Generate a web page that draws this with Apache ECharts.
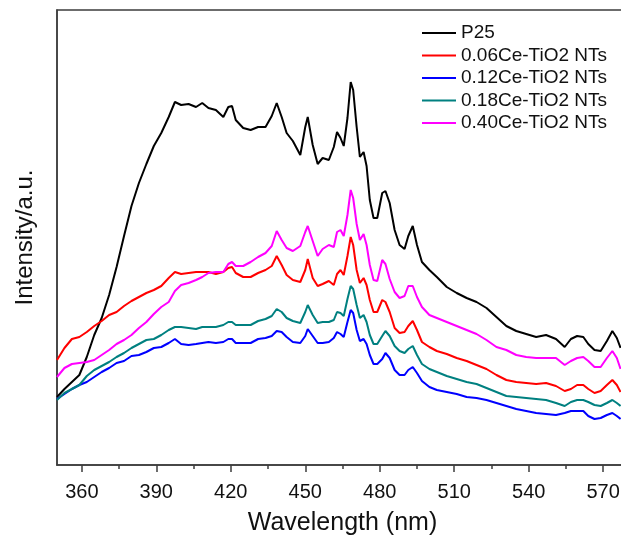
<!DOCTYPE html>
<html>
<head>
<meta charset="utf-8">
<title>PL spectra</title>
<script src="https://cdn.jsdelivr.net/npm/echarts@6.0.0/dist/echarts.min.js"></script>
<style>
    html, body {margin: 0; padding: 0; background: #fff;}
    #chart {width: 621px; height: 536px;}
</style>
</head>
<body>
<div id="chart"></div>
<script>
// wavelength (nm), shared by all curves
var wavelength = [350, 353, 356, 359, 362, 365, 368, 371, 374, 377,
    380, 383, 386, 389, 392, 395, 397.5, 400, 403, 406,
    408.5, 411, 414, 417, 419, 420.5, 422, 425, 428, 431,
    434, 436.5, 438.5, 440.5, 442.5, 445, 448, 450, 451, 453,
    455, 457, 459.5, 461.5, 462.8, 464.2, 465.5, 467, 468.3, 469.3,
    470.7, 472, 473.5, 474.7, 476, 477.5, 479, 481, 482.3, 484,
    486, 488, 490, 491.5, 493.3, 495, 497, 500, 503, 507,
    511, 515, 519, 523, 527, 531, 535, 539, 543, 547,
    551, 554.5, 557, 559.5, 562, 564, 566.5, 569, 571.5, 573.7,
    575.5, 577];

// intensity (a.u.)
var p25 = [68, 76, 83, 90, 108, 130, 147, 170, 198, 229,
    259, 282, 301, 319, 332, 348, 363, 360, 361, 358,
    362, 357, 355, 348, 358, 359, 345, 337, 335, 338,
    338, 349, 362, 348, 332, 324, 310, 338, 348, 320,
    301, 307, 305, 318, 333, 327, 319, 347, 383, 375,
    338, 308, 313, 299, 265, 247, 247, 272, 274, 262,
    235, 220, 216, 229, 239, 220, 203, 195, 188, 178,
    172, 167, 163, 157, 148, 139, 134, 131, 128, 130,
    126, 118, 126, 129, 128, 121, 115, 114, 124, 134,
    127, 117];

var ce006 = [105, 117, 126, 128, 133, 139, 144, 150, 153, 159,
    164, 168, 172, 175, 179, 187, 193, 191, 192, 193,
    193, 193, 191, 193, 197, 198, 192, 188, 188, 192,
    195, 199, 209, 200, 190, 185, 183, 195, 206, 187,
    179, 181, 184, 180, 191, 195, 190, 209, 228, 220,
    195, 182, 187, 180, 165, 153, 153, 165, 163, 153,
    137, 132, 133, 139, 144, 135, 123, 118, 114, 111,
    107, 104, 100, 96, 90, 85, 83, 82, 81, 82,
    79, 74, 76, 80, 80, 76, 72, 74, 80, 85,
    80, 73];

var ce012 = [66, 71, 76, 80, 83, 88, 93, 97, 102, 104,
    109, 110, 113, 117, 118, 122, 126, 121, 120, 121,
    122, 123, 122, 123, 126, 126, 122, 122, 122, 126,
    127, 129, 134, 133, 128, 123, 122, 129, 136, 129,
    122, 122, 123, 127, 133, 131, 128, 143, 155, 152,
    135, 124, 126, 121, 110, 101, 101, 106, 112, 107,
    95, 90, 90, 95, 98, 92, 84, 78, 75, 73,
    71, 68, 67, 65, 62, 59, 56, 54, 52, 51,
    50, 52, 54, 54, 54, 49, 46, 47, 50, 52,
    49, 46];

var ce018 = [65, 72, 76, 80, 89, 95, 99, 103, 108, 112,
    117, 121, 125, 126, 130, 135, 138, 138, 137, 136,
    138, 138, 138, 140, 143, 143, 140, 140, 140, 144,
    146, 149, 156, 153, 147, 144, 142, 153, 160, 150,
    142, 143, 143, 145, 153, 152, 149, 166, 179, 176,
    160, 147, 150, 143, 130, 121, 121, 129, 134, 129,
    119, 114, 112, 116, 119, 110, 101, 96, 93, 89,
    86, 83, 81, 77, 73, 69, 68, 67, 66, 65,
    62, 59, 63, 65, 65, 63, 60, 59, 62, 65,
    62, 59];

var ce040 = [88, 97, 101, 102, 103, 105, 110, 115, 121, 125,
    130, 137, 143, 151, 158, 163, 174, 180, 182, 185,
    188, 192, 193, 193, 201, 203, 199, 199, 203, 208,
    212, 219, 234, 225, 217, 214, 219, 233, 239, 224,
    209, 216, 220, 218, 233, 235, 229, 250, 275, 267,
    241, 225, 231, 220, 200, 185, 184, 205, 201, 186,
    173, 167, 169, 179, 179, 168, 158, 150, 147, 143,
    139, 135, 131, 125, 118, 115, 110, 108, 107, 107,
    107, 100, 104, 107, 108, 104, 98, 98, 107, 114,
    107, 96];

var seriesNames = ["P25", "0.06Ce-TiO2 NTs", "0.12Ce-TiO2 NTs", "0.18Ce-TiO2 NTs", "0.40Ce-TiO2 NTs"];
var seriesColors = ["#000000", "#ff0000", "#0000ff", "#008080", "#ff00ff"];

// x axis ticks
var majorTicks = [360, 390, 420, 450, 480, 510, 540, 570];
var minorTicks = [375, 405, 435, 465, 495, 525, 555];


function pairData(values) {
    var data = [];
    for (var i = 0; i < wavelength.length; i++) {
        data.push([wavelength[i], values[i]]);
    }
    return data;
}


function drawSpectrum(container) {
    var allValues = [p25, ce006, ce012, ce018, ce040];
    var series = [];
    for (var i = 0; i < allValues.length; i++) {
        series.push({
            name: seriesNames[i],
            type: 'line',
            data: pairData(allValues[i]),
            symbol: 'none',
            color: seriesColors[i],
            lineStyle: {width: 2, color: seriesColors[i]}
        });
    }

    var myChart = echarts.init(document.getElementById(container));
    var option = {
        animation: false,
        textStyle: {fontFamily: 'Liberation Sans, Arial, sans-serif', color: '#111'},
        grid: {
            left: 57, top: 10, width: 571, height: 455,
            outerBoundsMode: 'none',
            show: true, borderColor: '#3c3c3c', borderWidth: 1.5
        },
        legend: {
            orient: 'vertical',
            left: 422,
            top: 23,
            padding: 0,
            icon: 'rect',
            itemWidth: 34,
            itemHeight: 2,
            itemGap: 2.5,
            data: seriesNames,
            textStyle: {fontSize: 19, lineHeight: 20, color: '#111'}
        },
        xAxis: [
            {
                type: 'value',
                min: 350,
                max: 580,
                name: 'Wavelength (nm)',
                nameLocation: 'middle',
                nameGap: 46,
                nameTextStyle: {fontSize: 25, color: '#111'},
                axisLine: {show: true, onZero: false, lineStyle: {color: '#3c3c3c', width: 1.5}},
                axisTick: {show: true, customValues: majorTicks, length: 7, lineStyle: {color: '#3c3c3c', width: 1.5}},
                axisLabel: {customValues: majorTicks, fontSize: 20, margin: 17, color: '#111'},
                splitLine: {show: false}
            },
            {
                // minor ticks
                type: 'value',
                gridIndex: 0,
                position: 'bottom',
                offset: 0,
                min: 350,
                max: 580,
                axisLine: {show: false},
                axisTick: {show: true, customValues: minorTicks, length: 4, lineStyle: {color: '#3c3c3c', width: 1.5}},
                axisLabel: {show: false},
                splitLine: {show: false}
            }
        ],
        yAxis: {
            type: 'value',
            min: 0,
            max: 455,
            name: 'Intensity/a.u.',
            nameLocation: 'middle',
            nameGap: 20,
            nameTextStyle: {fontSize: 24, color: '#111'},
            axisLine: {show: true, lineStyle: {color: '#3c3c3c', width: 1.5}},
            axisTick: {show: false},
            axisLabel: {show: false},
            splitLine: {show: false}
        },
        series: series
    };
    myChart.setOption(option);
}

drawSpectrum("chart");
</script>
</body>
</html>
